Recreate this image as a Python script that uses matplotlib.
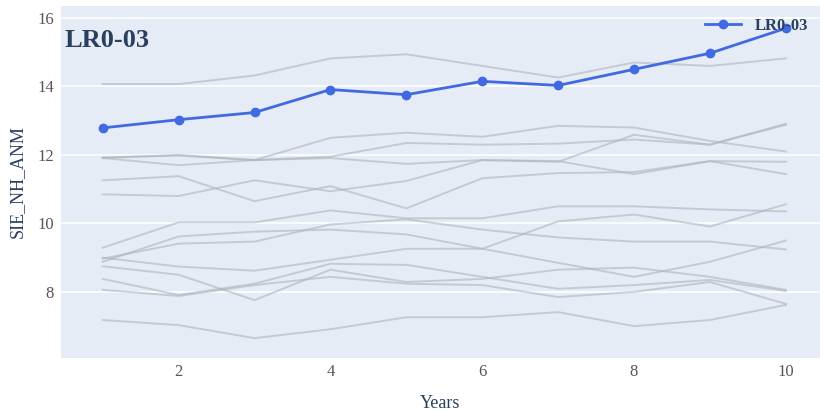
import matplotlib
matplotlib.use("Agg")
import matplotlib.pyplot as plt

years = [1, 2, 3, 4, 5, 6, 7, 8, 9, 10]
main_label = "LR0-03"
main_values = [12.79, 13.03, 13.24, 13.91, 13.76, 14.15, 14.03, 14.50, 14.97, 15.70]

other_members = [
    [14.07, 14.07, 14.32, 14.82, 14.94, 14.60, 14.26, 14.70, 14.60, 14.82],
    [11.91, 12.00, 11.85, 12.50, 12.65, 12.53, 12.85, 12.80, 12.41, 12.10],
    [11.91, 11.70, 11.85, 11.95, 12.35, 12.30, 12.33, 12.45, 12.30, 12.88],
    [11.93, 11.98, 11.85, 11.91, 11.74, 11.85, 11.80, 12.59, 12.30, 12.91],
    [11.26, 11.38, 10.65, 11.09, 10.44, 11.32, 11.47, 11.50, 11.82, 11.80],
    [10.85, 10.80, 11.26, 10.94, 11.24, 11.85, 11.82, 11.44, 11.82, 11.44],
    [9.29, 10.03, 10.03, 10.38, 10.15, 10.15, 10.50, 10.50, 10.41, 10.35],
    [8.97, 9.41, 9.47, 9.97, 10.12, 9.82, 9.59, 9.47, 9.47, 9.24],
    [8.88, 9.62, 9.76, 9.82, 9.68, 9.26, 10.06, 10.26, 9.91, 10.56],
    [9.00, 8.74, 8.62, 8.94, 9.26, 9.26, 8.85, 8.44, 8.88, 9.50],
    [8.75, 8.50, 7.76, 8.65, 8.29, 8.38, 8.65, 8.71, 8.44, 8.06],
    [8.38, 7.91, 8.24, 8.82, 8.79, 8.44, 8.09, 8.20, 8.35, 8.03],
    [8.06, 7.88, 8.20, 8.44, 8.24, 8.20, 7.85, 8.00, 8.29, 7.65],
    [7.18, 7.03, 6.65, 6.91, 7.26, 7.26, 7.41, 7.00, 7.18, 7.62],
]

x_ticks = [2, 4, 6, 8, 10]
y_ticks = [8, 10, 12, 14, 16]

serif = ["Liberation Serif", "DejaVu Serif"]
plt.rcParams["font.family"] = serif

fig = plt.figure(figsize=(8.23, 4.11), dpi=100)
ax = fig.add_axes([61 / 823, 1 - 358 / 411, (820 - 61) / 823, (358 - 6) / 411])
ax.set_facecolor("#E5ECF6")

for vals in other_members:
    ax.plot(years, vals, color="#b0b4bb", alpha=0.6, linewidth=1.4, zorder=2)

ax.plot(years, main_values, color="#4169E1", linewidth=2.0, marker="o",
        markersize=6, label=main_label, zorder=4)

ax.set_xlim(0.45, 10.45)
ax.set_ylim(6.07, 16.35)
ax.set_xticks(x_ticks)
ax.set_yticks(y_ticks)
ax.grid(True, axis="y", color="white", linewidth=1.2, zorder=1)
ax.grid(False, axis="x")
ax.set_axisbelow(True)
for s in ax.spines.values():
    s.set_visible(False)
ax.tick_params(axis="x", length=0, labelsize=12, colors="#555555", pad=4)
ax.tick_params(axis="y", length=0, labelsize=12, colors="#555555", pad=5)

ax.set_xlabel("Years", fontsize=13, color="#2a3f5f", labelpad=11)
ax.set_ylabel("SIE_NH_ANM", fontsize=13, color="#2a3f5f", labelpad=8)

ax.text(0.004, 0.935, main_label, transform=ax.transAxes, fontsize=19,
        fontweight="bold", color="#2a3f5f", va="top", ha="left", zorder=5)

leg = ax.legend(loc="upper right", frameon=False, fontsize=12,
                handlelength=2.2, borderaxespad=0.3)
for t in leg.get_texts():
    t.set_color("#2a3f5f")
    t.set_fontweight("bold")

fig.savefig("out.png", dpi=100, facecolor="white")
